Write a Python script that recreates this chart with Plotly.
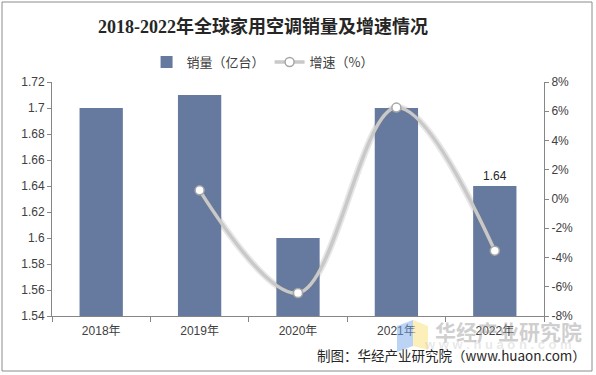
import plotly.graph_objects as go

years = ["2018年", "2019年", "2020年", "2021年", "2022年"]
sales = [1.70, 1.71, 1.60, 1.70, 1.64]
growth_years = ["2019年", "2020年", "2021年", "2022年"]
growth = [0.59, -6.43, 6.25, -3.53]
left_ticks = [1.54, 1.56, 1.58, 1.60, 1.62, 1.64, 1.66, 1.68, 1.70, 1.72]
left_ticktext = ["1.54", "1.56", "1.58", "1.6", "1.62", "1.64", "1.66", "1.68", "1.7", "1.72"]
right_ticks = [-8, -6, -4, -2, 0, 2, 4, 6, 8]
right_ticktext = ["-8%", "-6%", "-4%", "-2%", "0%", "2%", "4%", "6%", "8%"]
bar_labels = ["", "", "", "", "1.64"]

W, H = 596, 375
L, R, T, B = 52, 52, 82, 59

fig = go.Figure()
fig.add_trace(go.Bar(
    x=years, y=sales, name="销量（亿台）",
    marker=dict(color="#667a9f", line=dict(width=0)),
    width=0.44,
    text=bar_labels, textposition="outside", cliponaxis=False,
    textfont=dict(family="Liberation Sans, Arial", size=12, color="#262626"),
    yaxis="y",
))
# soft shadow under the line
fig.add_trace(go.Scatter(
    x=growth_years, y=growth, mode="lines", showlegend=False, hoverinfo="skip",
    line=dict(color="rgba(120,120,120,0.18)", width=7, shape="spline", smoothing=1.0),
    yaxis="y2",
))
fig.add_trace(go.Scatter(
    x=growth_years, y=growth, name="增速（%）", mode="lines+markers",
    line=dict(color="#c9c9c9", width=3.5, shape="spline", smoothing=1.0),
    marker=dict(symbol="circle", size=9, color="white", line=dict(color="#a6a6a6", width=1.5)),
    yaxis="y2", cliponaxis=False,
))

axis_font = dict(family="Liberation Sans, Arial", size=12, color="#404040")
fig.update_layout(
    width=W, height=H,
    margin=dict(l=L, r=R, t=T, b=B, autoexpand=False),
    paper_bgcolor="white", plot_bgcolor="white",
    title=dict(text="<b>2018-2022年全球家用空调销量及增速情况</b>",
               x=263 / W, xanchor="center", y=1 - 27 / H, yanchor="middle",
               font=dict(family="Liberation Serif, Noto Sans CJK SC", size=18, color="#262626")),
    legend=dict(orientation="h", x=0.428, xanchor="center", y=1 - 62 / H, yanchor="middle",
                yref="container", font=dict(family="Noto Sans CJK SC", size=13, color="#404040"),
                itemwidth=30, traceorder="normal", bgcolor="rgba(0,0,0,0)"),
    bargap=0.56,
    xaxis=dict(type="category", showgrid=False, showline=True, linecolor="#868686", linewidth=1,
               ticks="outside", tickson="boundaries", ticklen=5, tickcolor="#868686",
               ticklabelstandoff=4,
               tickfont=dict(family="Liberation Sans, Noto Sans CJK SC", size=12, color="#404040"),
               fixedrange=True),
    yaxis=dict(range=[1.54, 1.72], tickvals=left_ticks, ticktext=left_ticktext,
               showgrid=False, showline=True, linecolor="#868686", linewidth=1,
               ticks="outside", ticklen=4, tickcolor="#868686", tickfont=axis_font, zeroline=False),
    yaxis2=dict(range=[-8, 8], tickvals=right_ticks, ticktext=right_ticktext,
                overlaying="y", side="right",
                showgrid=False, showline=True, linecolor="#868686", linewidth=1,
                ticks="outside", ticklen=4, tickcolor="#868686", tickfont=axis_font, zeroline=False),
    showlegend=True,
)

pw, ph = W - L - R, H - T - B
def px(x):
    return (x - L) / pw
def py(y):
    return 1 - (y - T) / ph

# outer border
fig.add_shape(type="rect", xref="paper", yref="paper",
              x0=px(2), x1=px(592), y0=py(371), y1=py(2),
              line=dict(color="#8c8c8c", width=1), layer="below")

# watermark logo blocks
fig.add_shape(type="path", xref="paper", yref="paper",
              path=f"M {px(397)} {py(326)} L {px(413)} {py(320)} L {px(413)} {py(346)} L {px(397)} {py(352)} Z",
              fillcolor="rgba(120,170,235,0.5)", line=dict(width=0))
fig.add_shape(type="path", xref="paper", yref="paper",
              path=f"M {px(413)} {py(320)} L {px(428)} {py(326)} L {px(428)} {py(350)} L {px(413)} {py(346)} Z",
              fillcolor="rgba(250,225,130,0.55)", line=dict(width=0))
fig.add_annotation(text="<b>华经产业研究院</b>", xref="paper", yref="paper",
                   x=px(508), y=py(331), xanchor="center", yanchor="middle", showarrow=False,
                   font=dict(family="Noto Sans CJK SC", size=21, color="rgba(160,160,160,0.5)"))
fig.add_annotation(text="<b>w w w . h u a o n . c o m</b>", xref="paper", yref="paper",
                   x=px(498), y=py(344), xanchor="center", yanchor="middle", showarrow=False,
                   font=dict(family="Liberation Sans", size=13, color="rgba(190,190,190,0.35)"))
fig.add_annotation(text="制图：华经产业研究院（www.huaon.com）", xref="paper", yref="paper",
                   x=px(588), y=py(355), xanchor="right", yanchor="middle", showarrow=False,
                   font=dict(family="Noto Sans CJK SC", size=13.5, color="#262626"))

fig.write_html("out.html", config={"displayModeBar": False},
               post_script="document.body.style.margin='0';document.body.style.padding='0';")
